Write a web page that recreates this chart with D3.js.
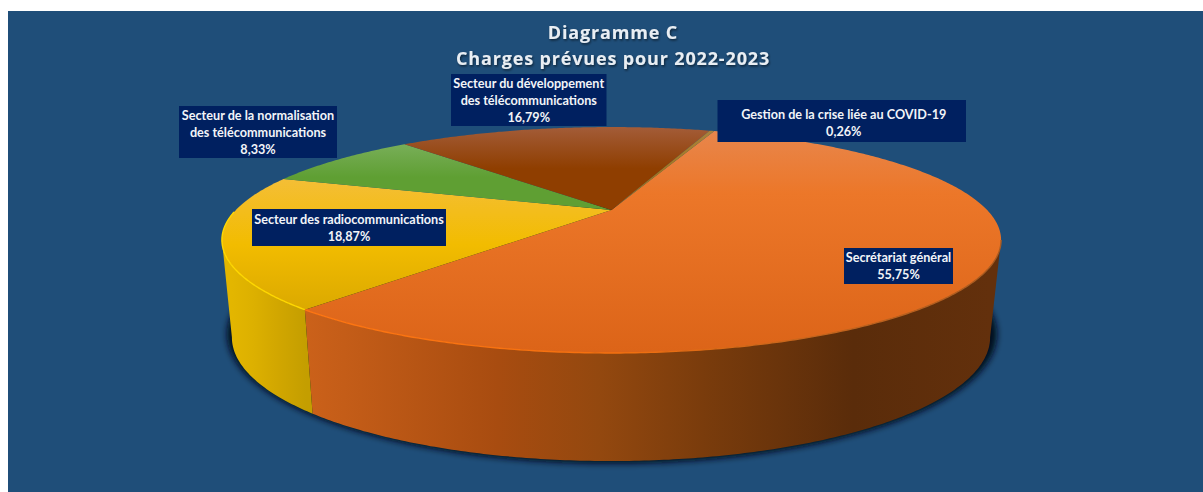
<!DOCTYPE html>
<html lang="fr">
<head>
<meta charset="utf-8">
<title>Diagramme C</title>
<script src="https://cdn.jsdelivr.net/npm/d3@7"></script>
<style>
    html, body { margin: 0; padding: 0; background: #fff; overflow: hidden; }
    svg { display: block; }
</style>
</head>
<body>
<div id="chart-area"></div>
<script>
// values, in drawing order (clockwise)
const categories = [
    "Secrétariat général",
    "Secteur des radiocommunications",
    "Secteur de la normalisation\ndes télécommunications",
    "Secteur du développement\ndes télécommunications",
    "Gestion de la crise liée au COVID-19"
]
const shares = [55.75, 18.87, 8.33, 16.79, 0.26]
const titleLines = ["Diagramme C", "Charges prévues pour 2022-2023"]

// styles, same order as categories
const topColors = [
    ["#e8864c", "#ec7729", "#dc6418"],
    ["#f4be36", "#f2bc00", "#dba900"],
    ["#78ae58", "#5f9f33", "#5f9f33"],
    ["#a35c38", "#8f3e00", "#8f3e00"],
    ["#a9823c", "#a5781c", "#a5781c"]
]
const topMiddle = [0.28, 0.5, 0.5, 0.5, 0.5]
const sideColors = [
    ["#cb611a", "#a84c10", "#93480f", "#7a3c0c", "#5a2c0a", "#63300c"],
    ["#e3b600", "#dcb000", "#d2a700", "#c49e00", "#c49e00", "#c49e00"],
    ["#5f9f33", "#5f9f33", "#5f9f33", "#5f9f33", "#5f9f33", "#5f9f33"],
    ["#8f3e00", "#8f3e00", "#8f3e00", "#8f3e00", "#8f3e00", "#8f3e00"],
    ["#a5781c", "#a5781c", "#a5781c", "#a5781c", "#a5781c", "#a5781c"]
]
const rimColors = ["#ff7612", "#ffd800", "#5f9f33", "#8f3e00", "#a5781c"]

// label boxes: left, top, right, bottom
const labelBoxes = [
    [844, 248, 953, 284],
    [252, 209, 446, 246],
    [179, 106, 337, 158],
    [451, 74, 606.5, 126],
    [717.5, 100, 966, 142]
]
// text offset inside each box: dx, dy
const labelNudge = [[0, 0], [0, 0], [0, 0], [0, 0], [2, 2]]

const WIDTH = 1203
const HEIGHT = 492
const PANEL = {LEFT: 8, TOP: 11}
const START_DEG = 20

// perspective of the disc: k shifts the near side, the rest are the fitted planes
const k = 0.2655
const TOP_PLANE = {cx: 611.5, cy: 210, a: 375.6, b: 105}
const BOTTOM_PLANE = {cx: 611, cy: 304.5, a: 365.5, b: 115}
const SHADOW_PLANE = {cx: 612, cy: 300, a: 371, b: 120}
const TANGENT = Math.acos(-k)

function project(angle, plane) {
    let u = Math.sin(angle)
    let v = -Math.cos(angle)
    let w = 1 - k * v
    return [plane.cx + plane.a * u / w, plane.cy + plane.b * v / w]
}

function arcPoints(a0, a1, plane) {
    let n = Math.max(2, Math.ceil(Math.abs(a1 - a0) / 0.01))
    return d3.range(n + 1).map(i => project(a0 + (a1 - a0) * i / n, plane))
}

let line = d3.line()
let pie = d3.pie().sort(null)
    .startAngle(START_DEG * Math.PI / 180)
    .endAngle((START_DEG + 360) * Math.PI / 180)
let slices = pie(shares)
let percent = d3.formatLocale({decimal: ",", thousands: " ", grouping: [3], currency: ["", "%"]}).format(".2f")

let svg = d3.select("#chart-area").append("svg")
    .attr("width", WIDTH)
    .attr("height", HEIGHT)

let defs = svg.append("defs")

defs.append("filter")
    .attr("id", "shadow-blur")
    .attr("x", "-5%").attr("y", "-5%")
    .attr("width", "110%").attr("height", "110%")
    .append("feGaussianBlur")
    .attr("stdDeviation", 3)

let titleShadow = defs.append("filter").attr("id", "title-shadow")
titleShadow.append("feDropShadow")
    .attr("dx", 1).attr("dy", 1.5)
    .attr("stdDeviation", 1)
    .attr("flood-color", "#000")
    .attr("flood-opacity", 0.55)

slices.forEach((d, i) => {
    let top = defs.append("linearGradient")
        .attr("id", `top-${i}`)
        .attr("gradientUnits", "userSpaceOnUse")
        .attr("x1", 0).attr("x2", 0)
    let ys = d3.extent(arcPoints(d.startAngle, d.endAngle, TOP_PLANE).concat([[0, TOP_PLANE.cy]]), p => p[1])
    top.attr("y1", ys[0]).attr("y2", ys[1])
    top.selectAll("stop")
        .data(topColors[i])
        .join("stop")
        .attr("offset", (c, j) => j === 1 ? topMiddle[i] : j / 2)
        .attr("stop-color", c => c)

    let side = defs.append("linearGradient")
        .attr("id", `side-${i}`)
        .attr("gradientUnits", "userSpaceOnUse")
        .attr("x1", i === 1 ? 232 : 306).attr("x2", i === 1 ? 306 : 990)
        .attr("y1", 0).attr("y2", 0)
    let stops = i === 1 ? [0, 0.3, 0.6, 1, 1, 1] : [0, 0.28, 0.43, 0.58, 0.8, 1]
    side.selectAll("stop")
        .data(sideColors[i])
        .join("stop")
        .attr("offset", (c, j) => stops[j])
        .attr("stop-color", c => c)
})

let rimFade = defs.append("linearGradient")
    .attr("id", "rim-0")
    .attr("gradientUnits", "userSpaceOnUse")
    .attr("x1", 306).attr("x2", 1002)
    .attr("y1", 0).attr("y2", 0)
rimFade.selectAll("stop")
    .data([[0, "#ff7612"], [0.45, "#f4700f"], [0.7, "#c8661c"], [1, "#a85a20"]])
    .join("stop")
    .attr("offset", d => d[0])
    .attr("stop-color", d => d[1])

svg.append("rect")
    .attr("x", PANEL.LEFT)
    .attr("y", PANEL.TOP)
    .attr("width", WIDTH - PANEL.LEFT)
    .attr("height", HEIGHT - PANEL.TOP)
    .attr("fill", "#1f4e79")

// shadow under the disc
svg.append("path")
    .attr("d", line(arcPoints(0, 2 * Math.PI, SHADOW_PLANE)) + "Z")
    .attr("fill", "#04111f")
    .attr("filter", "url(#shadow-blur)")

// outer wall, only the part turned to the viewer
slices.forEach((d, i) => {
    let a0 = Math.max(d.startAngle, TANGENT)
    let a1 = Math.min(d.endAngle, 2 * Math.PI - TANGENT)
    if (a1 <= a0) return
    let pts = arcPoints(a0, a1, TOP_PLANE).concat(arcPoints(a1, a0, BOTTOM_PLANE))
    svg.append("path")
        .attr("d", line(pts) + "Z")
        .attr("fill", `url(#side-${i})`)
})

// top of the disc
svg.selectAll("path.slice")
    .data(slices)
    .join("path")
    .attr("class", "slice")
    .attr("d", d => line([[TOP_PLANE.cx, TOP_PLANE.cy]].concat(arcPoints(d.startAngle, d.endAngle, TOP_PLANE))) + "Z")
    .attr("fill", (d, i) => `url(#top-${i})`)

// bright rim along the near edge
slices.forEach((d, i) => {
    let a0 = Math.max(d.startAngle, TANGENT)
    let a1 = Math.min(d.endAngle, 2 * Math.PI - TANGENT + 0.25)
    if (a1 <= a0) return
    svg.append("path")
        .attr("d", line(arcPoints(a0, a1, TOP_PLANE)))
        .attr("fill", "none")
        .attr("stroke", i === 0 ? "url(#rim-0)" : rimColors[i])
        .attr("stroke-width", 1.4)
})

// title
svg.selectAll("text.title")
    .data(titleLines)
    .join("text")
    .attr("class", "title")
    .attr("x", 613)
    .attr("y", (d, i) => 39 + i * 26)
    .attr("text-anchor", "middle")
    .attr("font-family", "'Open Sans'")
    .attr("font-weight", 700)
    .attr("font-size", "18px")
    .attr("letter-spacing", "0.85px")
    .attr("fill", "#e9eef3")
    .attr("filter", "url(#title-shadow)")
    .text(d => d)

// data labels
let labels = svg.selectAll("g.label")
    .data(slices)
    .join("g")
    .attr("class", "label")

labels.append("rect")
    .attr("x", (d, i) => labelBoxes[i][0])
    .attr("y", (d, i) => labelBoxes[i][1])
    .attr("width", (d, i) => labelBoxes[i][2] - labelBoxes[i][0])
    .attr("height", (d, i) => labelBoxes[i][3] - labelBoxes[i][1])
    .attr("fill", "#002060")

labels.each(function (d, i) {
    let box = labelBoxes[i]
    let rows = categories[i].split("\n").concat(percent(d.data) + "%")
    let middle = (box[1] + box[3]) / 2 + labelNudge[i][1]
    d3.select(this).selectAll("text")
        .data(rows)
        .join("text")
        .attr("x", (box[0] + box[2]) / 2 + labelNudge[i][0])
        .attr("y", (r, j) => middle + (j - (rows.length - 1) / 2) * 17 + 4.5)
        .attr("text-anchor", "middle")
        .attr("font-family", "Lato")
        .attr("font-weight", 700)
        .attr("font-size", "12.65px")
        .attr("fill", "#f2f4f8")
        .text(r => r)
})
</script>
</body>
</html>
